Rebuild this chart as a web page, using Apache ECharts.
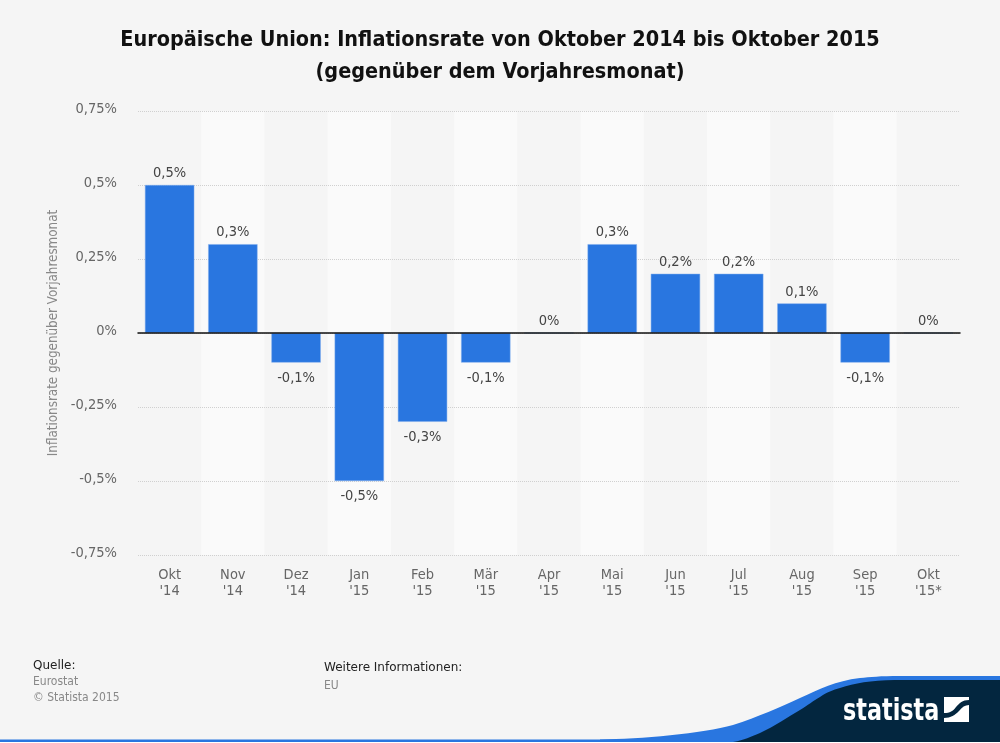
<!DOCTYPE html>
<html lang="de">
<head>
    <meta charset="UTF-8">
    <title>Inflationsrate EU</title>
    <script src="https://cdn.jsdelivr.net/npm/echarts@6/dist/echarts.min.js"></script>
    <style>
        html, body { margin: 0; padding: 0; background: #f5f5f5; }
        #chart { width: 1000px; height: 743px; }
    </style>
</head>
<body>
<div id="chart"></div>
<script>
    var categories = ["Okt\n'14", "Nov\n'14", "Dez\n'14", "Jan\n'15", "Feb\n'15", "Mär\n'15", "Apr\n'15",
        "Mai\n'15", "Jun\n'15", "Jul\n'15", "Aug\n'15", "Sep\n'15", "Okt\n'15*"];
    var rates = [0.5, 0.3, -0.1, -0.5, -0.3, -0.1, 0, 0.3, 0.2, 0.2, 0.1, -0.1, 0];

    var font = '"DejaVu Sans Condensed", "DejaVu Sans", sans-serif';

    function pct(v) {
        return String(v).replace('.', ',') + '%';
    }

    // footer shapes, graphic has no plain path type
    echarts.graphic.registerShape('swooshBlue', echarts.graphic.extendPath('M600 739.5 C640 739 703 733.5 733 725 C758 717 780 707 800 698 C820 689 835 681 860 678 C870 677 880 676 900 676 L1000 676 L1000 690 L760 742 L600 742 Z', {}));
    echarts.graphic.registerShape('swooshNavy', echarts.graphic.extendPath('M733 742 C745 740 750 737 760 733 C775 726 788 717 800 710 C808 705 813 701 820 697 C827 692 833 690 840 688 C855 683 870 680.5 895 680 L1000 680 L1000 742 Z', {}));
    echarts.graphic.registerShape('logoMark', echarts.graphic.extendPath('M944 697 L969 697 L969 700 C962 700 960 703 956 707 C953 711 950 713 944 713 Z M969 705 L969 722 L944 722 L944 718 C951 718 955 715 959 711 C962 707 965 705 969 705 Z', {}));

    var myChart = echarts.init(document.getElementById('chart'), null, {renderer: 'canvas'});
    var option = {
        backgroundColor: '#f5f5f5',
        animation: false,
        textStyle: {fontFamily: font},
        title: {
            text: 'Europäische Union: Inflationsrate von Oktober 2014 bis Oktober 2015\n(gegenüber dem Vorjahresmonat)',
            left: 'center',
            top: 19,
            textStyle: {
                fontFamily: font,
                fontSize: 21.45,
                fontWeight: 'bold',
                color: '#111',
                lineHeight: 32
            }
        },
        grid: {left: 138, right: 40, top: 111, bottom: 188},
        xAxis: [
            {
                // labels and background stripes
                type: 'category',
                data: categories,
                position: 'bottom',
                z: -1,
                axisLine: {show: false, onZero: false},
                axisTick: {show: false},
                axisLabel: {color: '#666', fontSize: 14.5, lineHeight: 16, margin: 12, interval: 0, fontFamily: font},
                splitArea: {show: true, interval: 0, areaStyle: {color: ['#f5f5f5', '#fafafa']}}
            },
            {
                // black zero line
                type: 'category',
                data: categories,
                position: 'bottom',
                axisLine: {show: true, onZero: true, lineStyle: {color: '#111', width: 1.5}},
                axisTick: {show: false},
                axisLabel: {show: false},
                z: 10
            }
        ],
        yAxis: {
            type: 'value',
            min: -0.75,
            max: 0.75,
            interval: 0.25,
            z: 1,
            name: 'Inflationsrate gegenüber Vorjahresmonat',
            nameLocation: 'middle',
            nameGap: 78,
            nameTextStyle: {color: '#888', fontSize: 13.3, fontFamily: font},
            axisLine: {show: false},
            axisTick: {show: false},
            // sits a little above its gridline
            axisLabel: {color: '#666', fontSize: 14.5, margin: 21, verticalAlign: 'bottom', lineHeight: 4, fontFamily: font, formatter: pct},
            splitLine: {show: true, lineStyle: {color: '#d0d0d0', type: 'dotted', width: 1}}
        },
        series: [{
            type: 'bar',
            data: rates.map(function (v) {
                return {value: v, label: {position: v < 0 ? 'bottom' : 'top', distance: v < 0 ? 8 : 4}};
            }),
            barWidth: '78%',
            z: 3,
            itemStyle: {color: '#2976e0', borderColor: '#7fadec', borderWidth: 0.5},
            label: {
                show: true,
                color: '#444',
                fontSize: 14.5,
                fontFamily: font,
                formatter: function (p) { return pct(p.value); }
            }
        }],
        graphic: [
            {type: 'text', left: 33, top: 660, style: {text: 'Quelle:', font: '12px "DejaVu Sans"', fill: '#222'}},
            {type: 'text', left: 33, top: 676, style: {text: 'Eurostat', font: '12px "DejaVu Sans Condensed", "DejaVu Sans"', fill: '#888'}},
            {type: 'text', left: 33, top: 692, style: {text: '© Statista 2015', font: '12px "DejaVu Sans Condensed", "DejaVu Sans"', fill: '#888'}},
            {type: 'text', left: 324, top: 662, style: {text: 'Weitere Informationen:', font: '12px "DejaVu Sans"', fill: '#222'}},
            {type: 'text', left: 324, top: 680, style: {text: 'EU', font: '12px "DejaVu Sans Condensed", "DejaVu Sans"', fill: '#888'}},
            {type: 'rect', shape: {x: 0, y: 739.5, width: 620, height: 2.5}, style: {fill: '#2976e0'}, silent: true},
            {type: 'rect', shape: {x: 0, y: 742, width: 1000, height: 1}, style: {fill: '#fff'}, silent: true},
            {type: 'swooshBlue', silent: true, style: {fill: '#2976e0'}},
            {type: 'swooshNavy', silent: true, style: {fill: '#03263f'}},
            {type: 'text', x: 843, y: 696, scaleX: 0.8, silent: true, style: {text: 'statista', font: 'bold 31px "DejaVu Sans Condensed", "DejaVu Sans"', fill: '#fff'}},
            {type: 'logoMark', silent: true, style: {fill: '#fff'}}
        ]
    };
    myChart.setOption(option);
</script>
</body>
</html>
